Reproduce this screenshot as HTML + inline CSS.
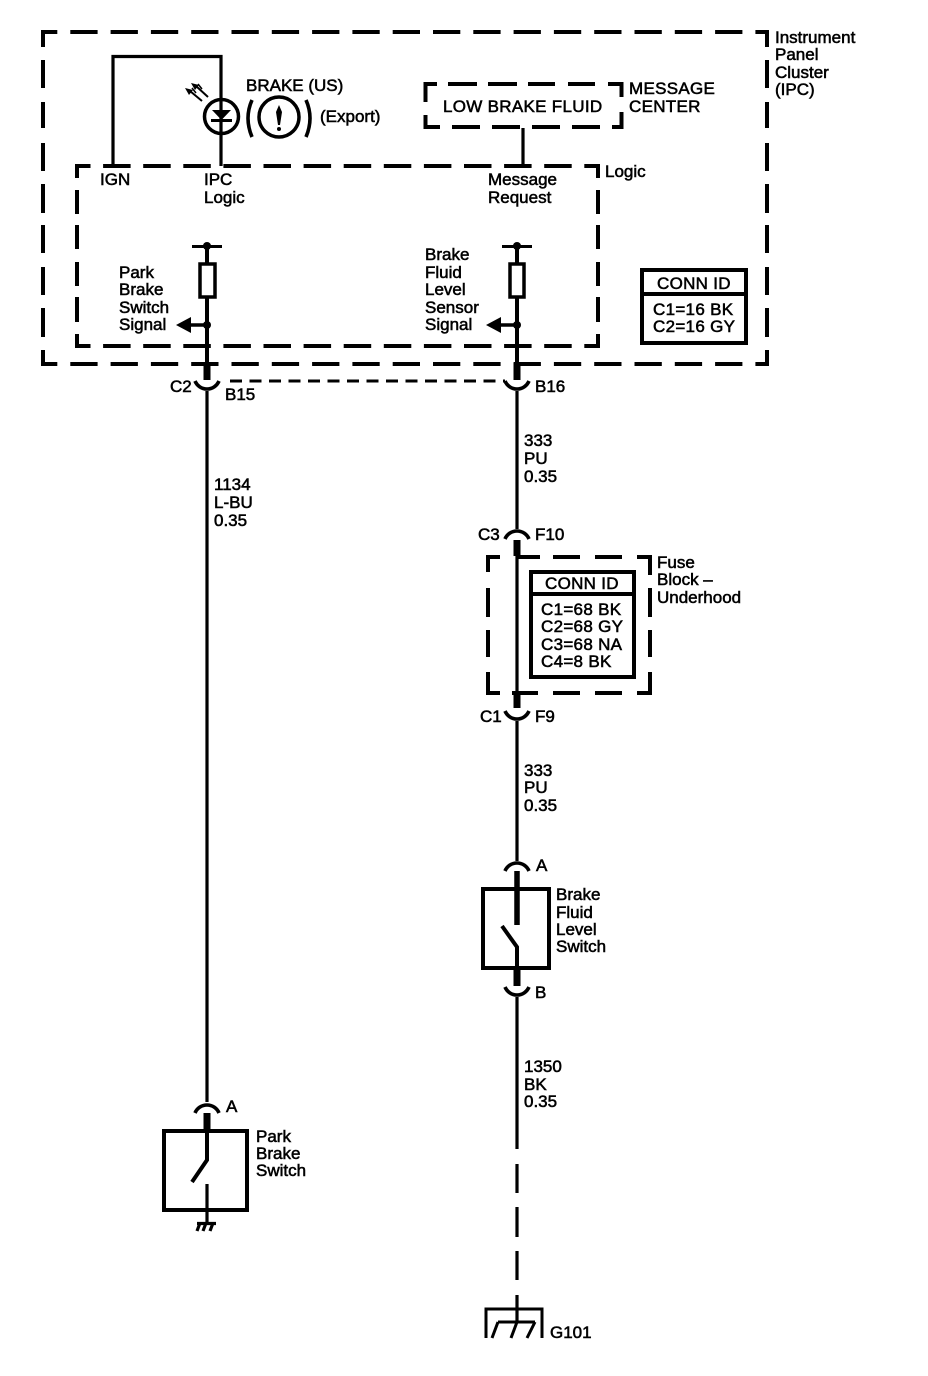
<!DOCTYPE html>
<html><head><meta charset="utf-8"><style>
html,body{margin:0;padding:0;background:#fff}
svg{display:block}
text{font-family:"Liberation Sans",sans-serif;font-size:17px;fill:#000;stroke:#000;stroke-width:.55px}
.u{letter-spacing:.3px}
.l{fill:none;stroke:#000;stroke-width:4}
.w{fill:none;stroke:#000;stroke-width:3.2}
.t{fill:none;stroke:#000;stroke-width:7}
.a{fill:none;stroke:#000;stroke-width:3.6}
</style></head><body>
<svg width="928" height="1376" viewBox="0 0 928 1376" xmlns="http://www.w3.org/2000/svg">
<rect width="928" height="1376" fill="#fff"/>
<!-- outer IPC -->
<path class="l" stroke-dasharray="27.3 13" stroke-dashoffset="13" d="M43 32H768"/>
<path class="l" stroke-dasharray="27.3 13" stroke-dashoffset="13" d="M43 364H768"/>
<path class="l" d="M43 30V47M43 60V88M43 102V128M43 143V171M43 184V213M43 225V253M43 267V295M43 308V337M43 350V366"/>
<path class="l" d="M767 30V47M767 60V88M767 102V128M767 143V171M767 184V213M767 225V253M767 267V295M767 308V337M767 350V366"/>
<!-- logic -->
<path class="l" stroke-dasharray="27.5 12.6" stroke-dashoffset="14" d="M77 166H600"/>
<path class="l" stroke-dasharray="27.5 12.6" stroke-dashoffset="14" d="M77 346H600"/>
<path class="l" d="M77 164V178M77 190V214M77 225V249M77 262V286M77 297V322M77 334V348"/>
<path class="l" d="M598 164V178M598 190V214M598 225V249M598 262V286M598 297V322M598 334V348"/>
<!-- message box -->
<path class="l" d="M425 84H437M448 84H477M488 84H517M528 84H555M568 84H595M608 84H623M425 127H440M452 127H480M492 127H520M532 127H560M572 127H600M612 127H623M425.500 82V102M425.500 115V129M621.500 82V97M621.500 112V129"/>
<path class="w" d="M523 128V166"/>
<!-- IGN / bulb -->
<path class="w" d="M113 166V56.500H221V166"/>
<circle cx="221.500" cy="116.500" r="17" fill="none" stroke="#000" stroke-width="3.500"/>
<path d="M212 110H231L221.500 120Z" fill="#000"/>
<path d="M211 120.500H232" stroke="#000" stroke-width="3"/>
<path d="M202 101L190 91M208 97L196 86" stroke="#000" stroke-width="2" fill="none"/>
<path d="M185 88L193 90L189 95ZM191 83L199 85L195 90Z" fill="#000"/>
<path d="M192 88L196 93M198 84L202 89" stroke="#000" stroke-width="1.500"/>
<circle cx="279" cy="117" r="20" fill="none" stroke="#000" stroke-width="3.500"/>
<path d="M279 105L282 112L280 125H278L276 112Z" fill="#000"/>
<circle cx="279" cy="129" r="2" fill="#000"/>
<path class="a" d="M252 100Q244 118 252 137M306 100Q314 118 306 137"/>
<!-- pins -->
<path d="M192 246.500H222M502 246.500H532" stroke="#000" stroke-width="3"/>
<circle cx="207" cy="246" r="4"/><circle cx="517" cy="246" r="4"/>
<path class="l" d="M207 246V366M517 246V366"/>
<rect x="200" y="264" width="15" height="33" fill="#fff" stroke="#000" stroke-width="3.500"/>
<rect x="510" y="264" width="14" height="33" fill="#fff" stroke="#000" stroke-width="3.500"/>
<path d="M207 325H188M517 325H498" stroke="#000" stroke-width="3.500"/>
<path d="M176 325L191 317V333Z M486 325L501 317V333Z"/>
<circle cx="207" cy="325" r="4"/><circle cx="517" cy="325" r="4"/>
<!-- connector row -->
<path class="t" d="M207 363V380M517 363V380"/>
<path class="a" d="M195 381A13 13 0 0 0 219 381M505 381A13 13 0 0 0 529 381"/>
<path stroke="#000" stroke-width="3" stroke-dasharray="12 7.500" d="M230 381H505"/>
<!-- left wire -->
<path class="w" d="M207 391V1102"/>
<path class="a" d="M195 1113A13 13 0 0 1 219 1113"/>
<path class="t" stroke-width="6" d="M207 1113V1131"/>
<path class="l" d="M207 1131V1160L192 1182"/>
<rect x="164" y="1131" width="83" height="79" fill="none" stroke="#000" stroke-width="4"/>
<path class="w" d="M207 1184V1223M197 1223.500H216M200 1223L197 1231M206 1223L203 1231M213 1223L210 1231"/>
<!-- right wire -->
<path class="w" d="M517 391V529"/>
<path class="a" d="M505 539A13 13 0 0 1 529 539"/>
<path class="t" d="M517 540V556M517 692V708"/>
<path class="w" d="M517 556V692"/>
<path class="a" d="M505 711A13 13 0 0 0 529 711"/>
<path class="w" d="M517 721V861"/>
<path class="a" d="M505 871A13 13 0 0 1 529 871"/>
<path stroke="#000" stroke-width="5.500" d="M517 871V925"/>
<rect x="483" y="889" width="66" height="79" fill="none" stroke="#000" stroke-width="4"/>
<path class="l" d="M502 926L517 947V969"/>
<path stroke="#000" stroke-width="7" d="M517 968V986"/>
<path class="a" d="M505 987A13 13 0 0 0 529 987"/>
<path class="w" d="M517 997V1149M517 1164V1193M517 1207V1237M517 1251V1280M517 1295V1322"/>
<path stroke="#000" stroke-width="3" fill="none" d="M486 1338V1309H542V1338"/>
<path stroke="#000" stroke-width="3" fill="none" d="M498 1322H535M498 1322L492 1338M517 1322L511 1338M535 1322L527 1338"/>
<!-- fuse block -->
<path class="l" d="M487 557H500M518 557H540M553 557H580M595 557H622M637 557H652M487 693H500M512 693H538M553 693H580M595 693H622M637 693H652M488 555V572M488 588V617M488 630V657M488 672V695M650 555V575M650 588V617M650 630V657M650 672V695"/>
<rect x="531" y="572" width="103" height="105" fill="#fff" stroke="#000" stroke-width="4"/>
<path class="l" d="M531 594H634"/>
<rect x="642" y="270" width="104" height="73" fill="#fff" stroke="#000" stroke-width="4"/>
<path class="l" d="M642 294H746"/>
<!-- labels -->
<text x="775" y="43">Instrument</text><text x="775" y="60">Panel</text><text x="775" y="78">Cluster</text><text x="775" y="95">(IPC)</text>
<text x="246" y="91">BRAKE (US)</text><text x="320" y="122">(Export)</text>
<text class="u" x="443" y="112">LOW BRAKE FLUID</text>
<text class="u" x="629" y="94">MESSAGE</text><text class="u" x="629" y="112">CENTER</text>
<text x="605" y="177">Logic</text>
<text x="100" y="185">IGN</text><text x="204" y="185">IPC</text><text x="204" y="203">Logic</text>
<text x="488" y="185">Message</text><text x="488" y="203">Request</text>
<text x="119" y="278">Park</text><text x="119" y="295">Brake</text><text x="119" y="313">Switch</text><text x="119" y="330">Signal</text>
<text x="425" y="260">Brake</text><text x="425" y="278">Fluid</text><text x="425" y="295">Level</text><text x="425" y="313">Sensor</text><text x="425" y="330">Signal</text>
<text class="u" x="657" y="289">CONN ID</text><text class="u" x="653" y="315">C1=16 BK</text><text class="u" x="653" y="332">C2=16 GY</text>
<text x="170" y="392">C2</text><text x="225" y="400">B15</text><text x="535" y="392">B16</text>
<text x="214" y="490">1134</text><text x="214" y="508">L-BU</text><text x="214" y="526">0.35</text>
<text x="524" y="446">333</text><text x="524" y="464">PU</text><text x="524" y="482">0.35</text>
<text x="478" y="540">C3</text><text x="535" y="540">F10</text>
<text x="657" y="568">Fuse</text><text x="657" y="585">Block –</text><text x="657" y="603">Underhood</text>
<text class="u" x="545" y="589">CONN ID</text><text class="u" x="541" y="615">C1=68 BK</text><text class="u" x="541" y="632">C2=68 GY</text><text class="u" x="541" y="650">C3=68 NA</text><text class="u" x="541" y="667">C4=8 BK</text>
<text x="480" y="722">C1</text><text x="535" y="722">F9</text>
<text x="524" y="776">333</text><text x="524" y="793">PU</text><text x="524" y="811">0.35</text>
<text x="536" y="871">A</text>
<text x="556" y="900">Brake</text><text x="556" y="918">Fluid</text><text x="556" y="935">Level</text><text x="556" y="952">Switch</text>
<text x="535" y="998">B</text>
<text x="524" y="1072">1350</text><text x="524" y="1090">BK</text><text x="524" y="1107">0.35</text>
<text x="226" y="1112">A</text>
<text x="256" y="1142">Park</text><text x="256" y="1159">Brake</text><text x="256" y="1176">Switch</text>
<text x="550" y="1338">G101</text>
</svg>
</body></html>
